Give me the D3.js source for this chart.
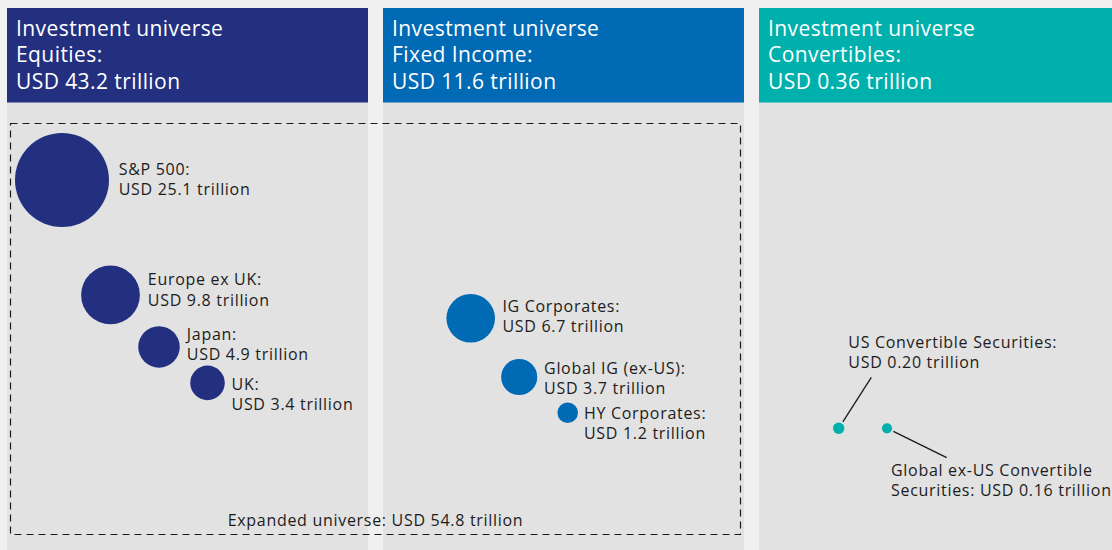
<!DOCTYPE html>
<html>
<head>
<meta charset="utf-8">
<script src="https://cdn.jsdelivr.net/npm/d3@7"></script>
<style>
  html, body { margin: 0; padding: 0; background: #f0f0f0; }
  svg { display: block; }
  text { font-family: "Open Sans", "Noto Sans", sans-serif; }
</style>
</head>
<body>
<svg id="chart" width="1112" height="550"></svg>
<script>
// ---------------- DATA ----------------
const panelNames = ["Equities", "Fixed Income", "Convertibles"];
const panelTotals = [43.2, 11.6, 0.36];
const panelDecimals = [1, 1, 2];

const equityNames = ["S&P 500", "Europe ex UK", "Japan", "UK"];
const equityValues = [25.1, 9.8, 4.9, 3.4];

const fiNames = ["IG Corporates", "Global IG (ex-US)", "HY Corporates"];
const fiValues = [6.7, 3.7, 1.2];

const convNames = ["US Convertible Securities", "Global ex-US Convertible Securities"];
const convValues = [0.20, 0.16];

const expandedLabel = "Expanded universe";
const expandedTotal = 54.8;

// ---------------- LAYOUT / STYLE ----------------
const W = 1112, H = 550;
const panelColors = ["#23307f", "#006ab4", "#00b0ac"];
const panelX = [7, 383, 759];
const panelW = [361, 361, 353];
const panelTop = 8, headerH = 94.5;
const textColor = "#1c1c1c";
const labelSize = 16, lineH = 20.3, labelSpacing = 0.7;

const svg = d3.select("#chart");

// panels
panelNames.forEach((name, i) => {
  const g = svg.append("g").attr("transform", `translate(${panelX[i]},${panelTop})`);
  g.append("rect").attr("width", panelW[i]).attr("height", H - panelTop).attr("fill", "#e2e2e2");
  g.append("rect").attr("width", panelW[i]).attr("height", headerH).attr("fill", panelColors[i]);
  const lines = ["Investment universe", name + ":", `USD ${panelTotals[i].toFixed(panelDecimals[i])} trillion`];
  g.selectAll("text.h").data(lines).join("text")
    .attr("class", "h")
    .attr("x", 9)
    .attr("y", (d, k) => 27.7 + k * 26.6)
    .attr("fill", "#fff")
    .attr("font-size", 21)
    .attr("letter-spacing", 0.42)
    .text(d => d);
});

// dashed "expanded universe" frame
svg.append("rect")
  .attr("x", 10.5).attr("y", 123.5).attr("width", 730).attr("height", 411)
  .attr("fill", "none").attr("stroke", "#1a1a1a").attr("stroke-width", 1.2)
  .attr("stroke-dasharray", "7,5");
svg.append("text")
  .attr("x", 375.5).attr("y", 526).attr("text-anchor", "middle")
  .attr("fill", textColor).attr("font-size", labelSize).attr("letter-spacing", labelSpacing)
  .text(`${expandedLabel}: USD ${expandedTotal.toFixed(1)} trillion`);

// radius scales
const r = d3.scaleSqrt().domain([0, d3.max(equityValues)]).range([0, 47]);
const rConv = d3.scaleSqrt().domain([0, d3.max(convValues)]).range([0, 5.7]);

function bubbleGroup(names, values, color, lay) {
  const x = d3.scaleLinear().domain([0, 1]).range([lay.x0, lay.x0 + lay.step]);
  const nodes = [];
  values.forEach((v, i) => {
    const rad = r(v);
    let cy = lay.y0;
    if (i > 0) { const p = nodes[i - 1]; cy = p.cy + p.r + rad + lay.gaps[i]; }
    nodes.push({ name: names[i], value: v, r: rad, cx: x(i), cy, i });
  });
  const g = svg.append("g");
  g.selectAll("circle").data(nodes).join("circle")
    .attr("cx", d => d.cx).attr("cy", d => d.cy).attr("r", d => d.r)
    .attr("fill", color);
  const t = g.selectAll("text").data(nodes).join("text")
    .attr("fill", textColor).attr("font-size", labelSize).attr("letter-spacing", labelSpacing)
    .attr("transform", d => `translate(${d.cx + d.r + 5 + d.r * 0.1},${d.cy + lay.labelDy[d.i] - 0.3})`);
  t.append("tspan").attr("x", 0).attr("y", 0).text(d => d.name + ":");
  t.append("tspan").attr("x", 0).attr("y", lineH).text(d => `USD ${d.value.toFixed(1)} trillion`);
}

bubbleGroup(equityNames, equityValues, panelColors[0],
  { x0: 62, step: 48.5, y0: 180, gaps: [0, 38.6, 1.8, -2.1], labelDy: [-4.7, -9.3, -7, 7] });
bubbleGroup(fiNames, fiValues, panelColors[1],
  { x0: 470.7, step: 48.5, y0: 318.3, gaps: [0, 16.4, 7.4], labelDy: [-6, -2.7, 6.6] });

// convertibles with leader lines
(function () {
  const x = d3.scaleLinear().domain([0, 1]).range([838.7, 887]);
  const cy = 428.3;
  const leader = [{ ex: 32.6, ey: -51, lx: 9.6, ly: -80.3 }, { ex: 59.7, ey: 29.4, lx: 4, ly: 47.4 }];
  const lines = [
    [convNames[0] + ":", `USD ${convValues[0].toFixed(2)} trillion`],
    ["Global ex-US Convertible", `Securities: USD ${convValues[1].toFixed(2)} trillion`]
  ];
  const nodes = convValues.map((v, i) => ({ v, i, cx: x(i), cy, r: rConv(v), L: leader[i], lines: lines[i] }));
  const g = svg.append("g");
  g.selectAll("line").data(nodes).join("line")
    .attr("x1", d => { const len = Math.hypot(d.L.ex, d.L.ey); return d.cx + d.L.ex / len * (d.r + 2); })
    .attr("y1", d => { const len = Math.hypot(d.L.ex, d.L.ey); return d.cy + d.L.ey / len * (d.r + 2); })
    .attr("x2", d => d.cx + d.L.ex).attr("y2", d => d.cy + d.L.ey)
    .attr("stroke", "#1a1a1a").attr("stroke-width", 1.3);
  g.selectAll("circle").data(nodes).join("circle")
    .attr("cx", d => d.cx).attr("cy", d => d.cy).attr("r", d => d.r)
    .attr("fill", panelColors[2]);
  const t = g.selectAll("text").data(nodes).join("text")
    .attr("fill", textColor).attr("font-size", labelSize).attr("letter-spacing", labelSpacing)
    .attr("transform", d => `translate(${d.cx + d.L.lx},${d.cy + d.L.ly})`);
  t.selectAll("tspan").data(d => d.lines).join("tspan")
    .attr("x", 0).attr("y", (d, k) => k * lineH).text(d => d);
})();
</script>
</body>
</html>
